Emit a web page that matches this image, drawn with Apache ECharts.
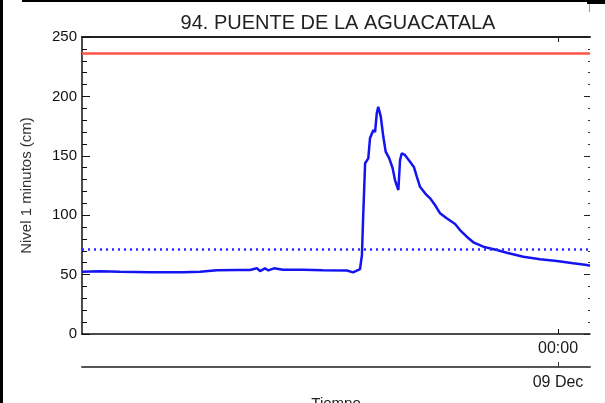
<!DOCTYPE html>
<html><head><meta charset="utf-8">
<script src="https://cdn.jsdelivr.net/npm/echarts@6/dist/echarts.min.js"></script>
<style>html,body{margin:0;padding:0;background:#fff}#c{width:605px;height:403px}</style>
</head><body><div id="c"></div>
<script>
const chartTitle = '94. PUENTE DE LA AGUACATALA';
const yAxisName = 'Nivel 1 minutos (cm)';
const xAxisName = 'Tiempo';
const timeTickLabel = '00:00';
const dateTickLabel = '09 Dec';
// hours relative to 09 Dec 00:00
const hours = [-22.48,-21.63,-20.69,-19.27,-18.33,-17.71,-16.91,-16.11,-15.16,-14.55,
  -14.22,-14.07,-13.84,-13.68,-13.41,-12.99,-12.04,-11.10,-9.97,-9.68,
  -9.35,-9.26,-9.20,-9.11,-8.96,-8.88,-8.72,-8.64,-8.56,-8.49,
  -8.37,-8.25,-8.14,-7.97,-7.81,-7.70,-7.54,-7.46,-7.38,-7.23,
  -6.99,-6.80,-6.67,-6.52,-6.28,-6.04,-5.81,-5.57,-5.26,-4.86,
  -4.63,-4.31,-4.00,-3.53,-2.89,-2.42,-1.64,-0.85,-0.06,0.72,
  1.36,1.51];
const nivel = [52.5,52.8,52.3,51.9,52.0,51.9,52.4,53.6,53.8,53.9,
  55.3,53.0,55.3,53.5,55.3,54.1,54.0,53.6,53.4,51.9,
  54.7,66.5,100,143.7,147.8,164.7,171.7,170,185.8,191.3,
  183,166,153.5,147.8,139.5,129.6,121.2,146.5,152,150.7,
  145,140.3,132.4,124,118.4,114.2,108.6,101.6,97.4,92.6,
  87.5,81.9,77.2,73.5,70.7,68.4,65,63,61.4,59.5,
  58,57.5];
const redLevel = 236;
const blueLevel = 71.5;
const xMin = -22.48, xMax = 1.51;
const yMin = 0, yMax = 250, yStep = 50;
const xTickAt = [0];

const chart = echarts.init(document.getElementById('c'), null, {renderer:'canvas'});
const font = 'Liberation Sans, Arial, Helvetica, sans-serif';
const dataPairs = hours.map((h, i) => [h, nivel[i]]);
chart.setOption({
  animation: false,
  backgroundColor: '#fff',
  title: {text: chartTitle, left: 333, top: 8, textAlign: 'center',
    textStyle: {fontFamily: font, fontSize: 20, fontWeight: 'normal', color: '#222'}},
  grid: {left: 82, right: 15, top: 37, bottom: 69, containLabel: false, outerBoundsMode: 'none'},
  xAxis: [
    {type: 'value', position: 'bottom', min: xMin, max: xMax,
     axisLine: {show: true, onZero: false, lineStyle: {color: '#111', width: 1.5}},
     axisTick: {show: true, inside: true, length: 5, customValues: xTickAt, lineStyle: {color: '#111'}},
     axisLabel: {show: true, customValues: xTickAt, formatter: () => timeTickLabel, margin: 7,
       fontFamily: font, fontSize: 16, color: '#1a1a1a'},
     splitLine: {show: false}},
    {type: 'value', position: 'bottom', offset: 33, min: xMin, max: xMax,
     name: xAxisName, nameLocation: 'middle', nameGap: 25,
     nameTextStyle: {fontFamily: font, fontSize: 15, color: '#222'},
     axisLine: {show: true, onZero: false, lineStyle: {color: '#555', width: 2}},
     axisTick: {show: true, inside: true, length: 5, customValues: xTickAt, lineStyle: {color: '#333'}},
     axisLabel: {show: true, customValues: xTickAt, formatter: () => dateTickLabel, margin: 8,
       fontFamily: font, fontSize: 16, color: '#1a1a1a'},
     splitLine: {show: false}},
    {type: 'value', position: 'top', min: xMin, max: xMax,
     axisLine: {show: true, onZero: false, lineStyle: {color: '#222', width: 2}},
     axisTick: {show: true, inside: true, length: 5, customValues: xTickAt, lineStyle: {color: '#222'}},
     axisLabel: {show: false},
     splitLine: {show: false}}
  ],
  yAxis: [
    {type: 'value', position: 'left', min: yMin, max: yMax, interval: yStep,
     name: yAxisName, nameLocation: 'middle', nameGap: 48, nameRotate: 90,
     nameTextStyle: {fontFamily: font, fontSize: 15, color: '#333'},
     axisLine: {show: true, onZero: false, lineStyle: {color: '#111', width: 1.5}},
     axisTick: {show: true, inside: true, length: 8, lineStyle: {color: '#111'}},
     minorTick: {show: true, splitNumber: 5, length: 5, lineStyle: {color: '#111'}},
     axisLabel: {fontFamily: font, fontSize: 15, color: '#111', margin: 5},
     splitLine: {show: false}},
    {type: 'value', position: 'right', min: yMin, max: yMax, interval: yStep,
     axisLine: {show: false, onZero: false},
     axisTick: {show: true, inside: true, length: 6, lineStyle: {color: '#222'}},
     minorTick: {show: true, splitNumber: 5, length: 2, lineStyle: {color: '#333'}},
     axisLabel: {show: false},
     splitLine: {show: false}}
  ],
  series: [{
    type: 'line', xAxisIndex: 0, yAxisIndex: 0, data: dataPairs,
    showSymbol: false, symbol: 'none',
    lineStyle: {color: '#1414f0', width: 2.5},
    markLine: {
      silent: true, symbol: 'none', label: {show: false},
      data: [
        {yAxis: redLevel, lineStyle: {color: '#ff5544', width: 2.5, type: 'solid'}},
        {yAxis: blueLevel, lineStyle: {color: '#2a2aff', width: 2.5, type: [2, 4]}}
      ]
    }
  }],
  graphic: [
    {type: 'rect', left: 0, top: 0, shape: {width: 3, height: 403}, style: {fill: '#000'}},
    {type: 'rect', left: 22, top: 0, shape: {width: 568, height: 2}, style: {fill: '#000'}},
    {type: 'rect', left: 587, top: 0, shape: {width: 18, height: 4}, style: {fill: '#000'}},
    {type: 'rect', left: 589, top: 4, shape: {width: 1, height: 8}, style: {fill: '#999'}}
  ]
});
</script></body></html>
